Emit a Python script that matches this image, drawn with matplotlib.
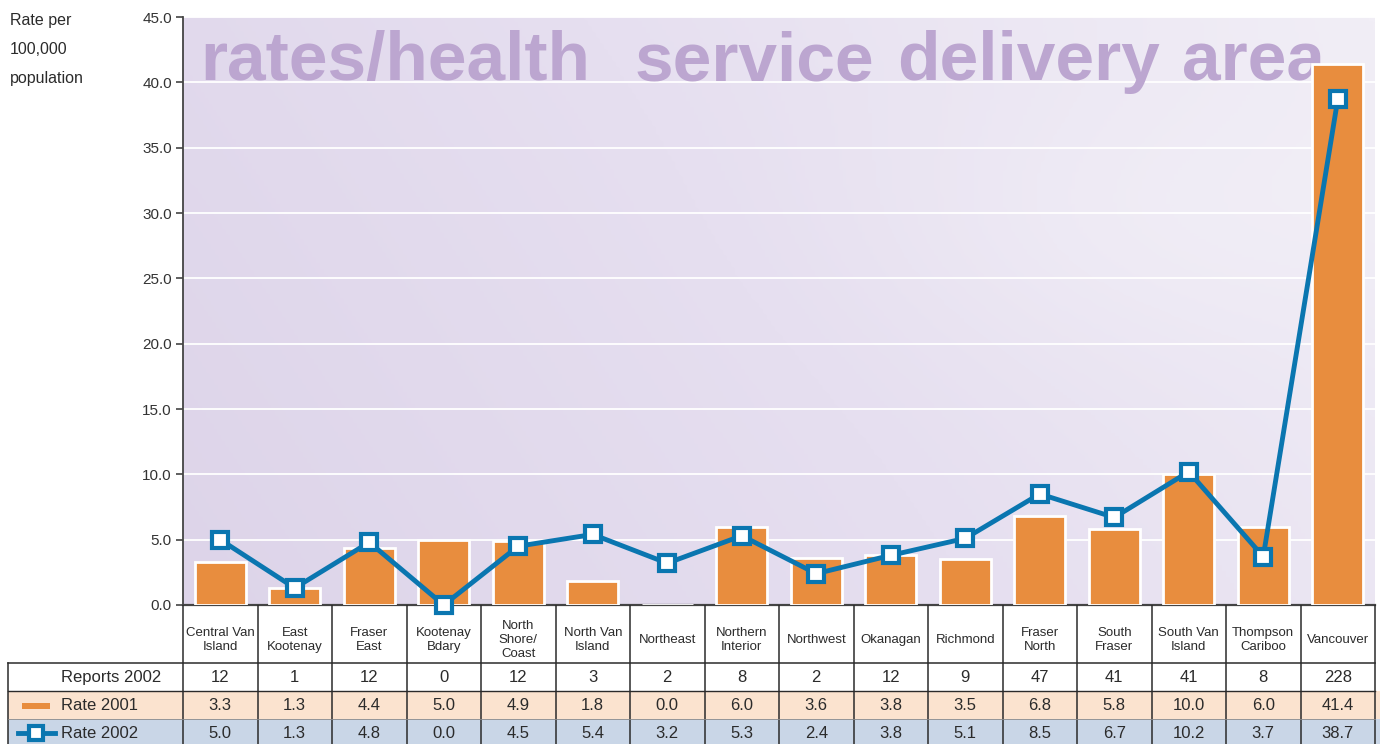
import numpy as np
import matplotlib
matplotlib.use("Agg")
import matplotlib.pyplot as plt
from matplotlib.colors import LinearSegmentedColormap
from matplotlib.patches import Rectangle
from matplotlib.lines import Line2D

# ---------------- data ----------------
categories = ["Central Van\nIsland", "East\nKootenay", "Fraser\nEast", "Kootenay\nBdary",
              "North\nShore/\nCoast", "North Van\nIsland", "Northeast", "Northern\nInterior",
              "Northwest", "Okanagan", "Richmond", "Fraser\nNorth", "South\nFraser",
              "South Van\nIsland", "Thompson\nCariboo", "Vancouver"]
reports_2002 = [12, 1, 12, 0, 12, 3, 2, 8, 2, 12, 9, 47, 41, 41, 8, 228]
rate_2001 = [3.3, 1.3, 4.4, 5.0, 4.9, 1.8, 0.0, 6.0, 3.6, 3.8, 3.5, 6.8, 5.8, 10.0, 6.0, 41.4]
rate_2002 = [5.0, 1.3, 4.8, 0.0, 4.5, 5.4, 3.2, 5.3, 2.4, 3.8, 5.1, 8.5, 6.7, 10.2, 3.7, 38.7]
yticks = [0, 5, 10, 15, 20, 25, 30, 35, 40, 45]
row_labels = ["Reports 2002", "Rate 2001", "Rate 2002"]
title_words = ["rates/health", "service", "delivery", "area"]
ylabel_lines = ["Rate per", "100,000", "population"]

# ---------------- style ----------------
ORANGE = "#e88d3e"
BLUE = "#0a76b0"
PEACH = "#fbe3cf"
LBLUE = "#c9d6e7"
DARK = "#2b2b2b"
TITLE_C = "#bca6d0"
plt.rcParams["font.family"] = ["Liberation Sans", "DejaVu Sans"]

W, H = 1380, 744
L, R, T, B = 183, 1375, 17, 605
n = len(categories)
x = np.arange(n)
unit = (R - L) / n

fig = plt.figure(figsize=(W / 100, H / 100), dpi=100)
fig.patch.set_facecolor("white")
ax = fig.add_axes([L / W, 1 - B / H, (R - L) / W, (B - T) / H])
ax.set_xlim(-0.5, n - 0.5)
ax.set_ylim(0, 45)

# background gradient
gx, gy = np.meshgrid(np.linspace(0, 1, 300), np.linspace(0, 1, 200))
val = 0.6 * gx + 0.2 * (1 - gy) + 0.12 * np.exp(-((gx - 0.8) ** 2 + (gy - 0.35) ** 2) / 0.05)
cmap = LinearSegmentedColormap.from_list("bg", ["#ddd4e9", "#e6dff0", "#f1eef6"])
ax.imshow(val, cmap=cmap, extent=(-0.5, n - 0.5, 0, 45), aspect="auto",
          origin="upper", zorder=0, interpolation="bilinear")

ax.set_axisbelow(True)
ax.set_yticks(yticks)
ax.set_yticklabels([f"{v:.1f}" for v in yticks])
ax.yaxis.grid(True, color="white", lw=1.3)
ax.set_xticks([])
ax.tick_params(axis="y", direction="out", length=5, width=1.2, color="#444",
               labelsize=11, labelcolor="#333", pad=3)
for s in ["top", "right"]:
    ax.spines[s].set_visible(False)
ax.spines["left"].set_color("#444")
ax.spines["left"].set_linewidth(1.3)
ax.spines["bottom"].set_color("#444")
ax.spines["bottom"].set_linewidth(1.6)

# title words, placed at their left edges (pixels)
for word, left in zip(title_words, [200, 635, 897, 1182]):
    ax.text((left - L) / (R - L), (B - 80) / (B - T), word, transform=ax.transAxes,
            fontsize=50, fontweight="bold", color=TITLE_C, va="baseline", ha="left",
            zorder=0.6)

ax.bar(x, rate_2001, width=0.68, color=ORANGE, edgecolor="white", linewidth=2, zorder=3)
ax.plot(x, rate_2002, color=BLUE, lw=3.5, marker="s", ms=11, mfc="white", mec=BLUE,
        mew=3, zorder=4, clip_on=False)

for i, t in enumerate(ylabel_lines):
    fig.text(10 / W, 1 - (20 + 29.5 * i) / H, t, fontsize=11.5, color=DARK, va="center", ha="left")

# ---------------- table ----------------
axt = fig.add_axes([0, 0, 1, (H - B) / H])
axt.set_xlim(-0.5 - L / unit, n - 0.5 + (W - R) / unit)
axt.set_ylim(H - B, 0)
axt.axis("off")


def px(p):
    return -0.5 + (p - L) / unit


x8 = px(8)
xend = axt.get_xlim()[1]
axt.add_patch(Rectangle((x8, 86), xend - x8, 28, color=PEACH, lw=0, zorder=0))
axt.add_patch(Rectangle((x8, 114), xend - x8, 30, color=LBLUE, lw=0, zorder=0))

for k in range(n + 1):
    axt.plot([k - 0.5, k - 0.5], [0, 139], color=DARK, lw=1.1, zorder=2)
axt.plot([x8, x8], [58, 139], color=DARK, lw=1.1, zorder=2)
axt.plot([x8, n - 0.5], [58, 58], color=DARK, lw=1.1, zorder=2)
axt.plot([x8, n - 0.5], [86, 86], color=DARK, lw=1.0, zorder=2)
axt.plot([x8, n - 0.5], [114, 114], color="#8a8a8a", lw=0.6, zorder=2)

for i, c in enumerate(categories):
    axt.text(i, 35, c, ha="center", va="center", fontsize=9.5, color=DARK, linespacing=1.25)
    axt.text(i, 72.5, str(reports_2002[i]), ha="center", va="center", fontsize=12, color=DARK)
    axt.text(i, 100.5, f"{rate_2001[i]:.1f}", ha="center", va="center", fontsize=12, color=DARK)
    axt.text(i, 128, f"{rate_2002[i]:.1f}", ha="center", va="center", fontsize=12, color=DARK)

for lab, yy in zip(row_labels, [72.5, 100.5, 128]):
    axt.text(px(61), yy, lab, ha="left", va="center", fontsize=12, color=DARK)

axt.add_patch(Rectangle((px(22), 97.5), px(50) - px(22), 6, color=ORANGE, lw=0))
axt.add_line(Line2D([px(18), px(55)], [128, 128], color=BLUE, lw=3.5))
axt.plot([px(36)], [128], marker="s", ms=10, mfc="white", mec=BLUE, mew=3)

fig.savefig("out.png", dpi=100)
